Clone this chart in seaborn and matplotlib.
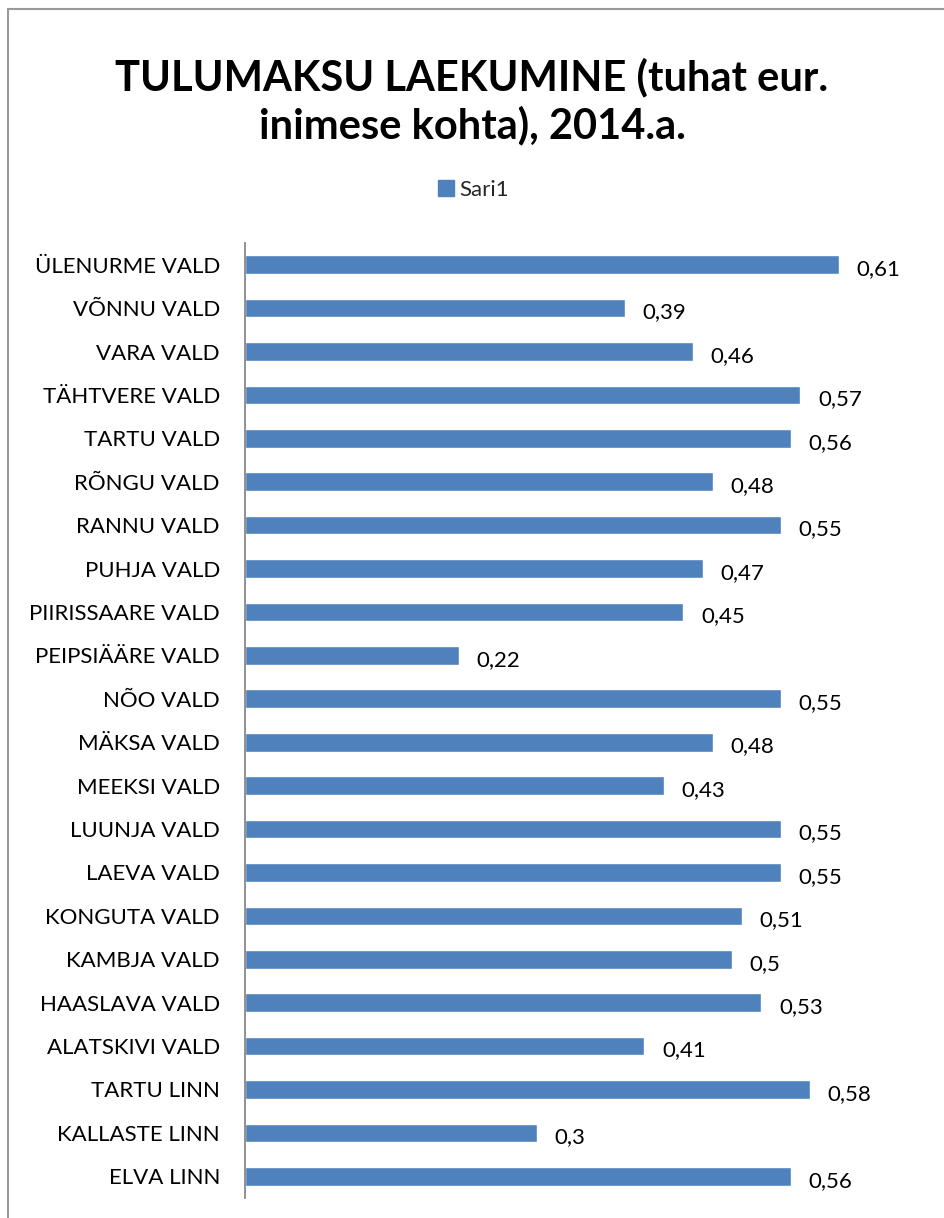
import pandas as pd
import seaborn as sns
import matplotlib.pyplot as plt
from matplotlib.lines import Line2D

# data, top to bottom as in the chart
vallad = ['ÜLENURME VALD', 'VÕNNU VALD', 'VARA VALD', 'TÄHTVERE VALD', 'TARTU VALD',
          'RÕNGU VALD', 'RANNU VALD', 'PUHJA VALD', 'PIIRISSAARE VALD', 'PEIPSIÄÄRE VALD',
          'NÕO VALD', 'MÄKSA VALD', 'MEEKSI VALD', 'LUUNJA VALD', 'LAEVA VALD',
          'KONGUTA VALD', 'KAMBJA VALD', 'HAASLAVA VALD', 'ALATSKIVI VALD', 'TARTU LINN',
          'KALLASTE LINN', 'ELVA LINN']
laekumine = [0.61, 0.39, 0.46, 0.57, 0.56, 0.48, 0.55, 0.47, 0.45, 0.22,
             0.55, 0.48, 0.43, 0.55, 0.55, 0.51, 0.5, 0.53, 0.41, 0.58,
             0.3, 0.56]

df = pd.DataFrame({'vald': vallad, 'tulu': laekumine})

sns.set_style('white')
plt.rcParams['font.family'] = ['Lato', 'DejaVu Sans']

fig = plt.figure(figsize=(9.44, 12.18), dpi=100)
ax = fig.add_axes([0.2595, 0.0164, 0.7225, 0.7841])

sns.barplot(data=df, x='tulu', y='vald', orient='h', color='#4F81BD',
            saturation=1, width=0.43, ax=ax)

ax.set_xlim(0, 0.7)
ax.set_xlabel('')
ax.set_ylabel('')
ax.set_xticks([])
ax.tick_params(axis='y', length=0, labelsize=16, pad=18, labelcolor='black')
for s in ['top', 'right', 'bottom']:
    ax.spines[s].set_visible(False)
ax.spines['left'].set_color('#888888')
ax.spines['left'].set_linewidth(1.3)

for i, v in enumerate(laekumine):
    ax.text(v + 0.018, i + 0.1, str(v).replace('.', ','), va='center', ha='left',
            fontsize=16, color='black')

fig.text(0.5, 0.917, 'TULUMAKSU LAEKUMINE (tuhat eur.\ninimese kohta), 2014.a.',
         ha='center', va='center', fontsize=30, fontweight='bold', linespacing=1.25,
         color='black')

handle = Line2D([], [], marker='s', color='#4F81BD', linestyle='none', markersize=12)
fig.legend([handle], ['Sari1'], loc='center', bbox_to_anchor=(0.5, 0.844),
           frameon=False, fontsize=16, handletextpad=0.1, handlelength=1)

# chart frame (left and top edges visible)
fig.add_artist(Line2D([8 / 944, 8 / 944], [0, 1 - 9 / 1218], transform=fig.transFigure,
                      color='#999999', lw=1.5))
fig.add_artist(Line2D([8 / 944, 1], [1 - 9 / 1218, 1 - 9 / 1218], transform=fig.transFigure,
                      color='#999999', lw=1.5))

fig.savefig('out.png', dpi=100)
